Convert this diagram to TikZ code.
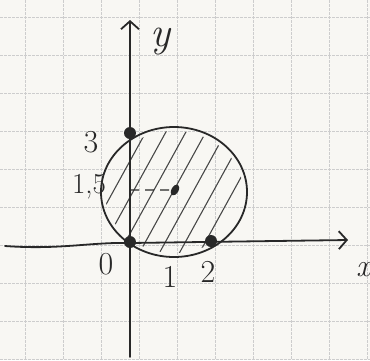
\documentclass[tikz,border=0pt]{standalone}
\usetikzlibrary{arrows.meta,shapes.geometric}
\begin{document}
\definecolor{paper}{RGB}{248,247,243}
\definecolor{gridc}{RGB}{205,205,205}
\definecolor{ink}{RGB}{40,40,40}
\tikzset{
  pen/.style={draw=ink,line width=1.8pt,line cap=round,line join=round},
  hatch/.style={draw=ink!85,line width=1.1pt,line cap=round},
  lbl/.style={text=ink,font=\fontsize{32}{32}\selectfont,inner sep=0pt},
  dotc/.style={circle,fill=ink,inner sep=0pt,minimum size=12pt},
  tip/.style={-{Straight Barb[length=8pt,width=18pt,line width=1.8pt]}}
}
\begin{tikzpicture}[x={(1pt,0)},y={(0,-1pt)}]
\fill[paper] (0,0) rectangle (370,360);
\useasboundingbox (0,0) rectangle (370,360);
% grid
\foreach \gx in {25,63,101,139,177,215,253,291,329,367}
  \draw[gridc,line width=0.5pt,dash pattern=on 3pt off 1pt] (\gx,0) -- (\gx,360);
\foreach \gy in {17,55,93,131,169,207,245,283,321,359}
  \draw[gridc,line width=0.5pt,dash pattern=on 3pt off 1pt] (0,\gy) -- (370,\gy);
% coordinates
\coordinate (ybot) at (130,357);
\coordinate (ytop) at (130,20);
\coordinate (xleft) at (5,246);
\coordinate (xright) at (348,240);
\coordinate (cen) at (174,192);
% hatching
\begin{scope}
  \clip (cen) ellipse [x radius=69pt, y radius=61pt];
  \foreach \k in {-100,-80,...,100}
    \draw[hatch] ({150+\k},270) -- ({150+\k+88},110);
\end{scope}
% circle
\draw[pen] (cen) ellipse [x radius=73pt, y radius=65pt];
% axes
\draw[pen,tip] (ybot) -- (ytop);
\draw[pen,tip] (xleft) .. controls (60,250) and (90,242) .. (130,243) -- (xright);
% dashed radius
\coordinate (yc) at (130,190);
\node[ellipse,fill=ink,inner sep=0pt,minimum width=7pt,minimum height=12pt,rotate=-30] (center) at (175,190) {};
\draw[ink,line width=1.1pt,dash pattern=on 9pt off 6pt] (yc) -- (center);
% points
\node[dotc] (p3) at (130,133) {};
\node[dotc] (p0) at (130,242) {};
\node[dotc] (p2) at (211,241) {};
% labels
\node[lbl,font=\fontsize{42}{42}\selectfont\itshape] (ly) at (160,42) {y};
\node[lbl,font=\fontsize{32}{32}\selectfont\itshape,anchor=west] (lx) at (356,270) {x};
\node[lbl] (l3) at (91,142) {3};
\node[lbl,font=\fontsize{29}{29}\selectfont] (l15) at (89,187) {1,5};
\node[lbl] (l0) at (106,264) {0};
\node[lbl] (l1) at (170,277) {1};
\node[lbl] (l2) at (208,272) {2};
\end{tikzpicture}
\end{document}
